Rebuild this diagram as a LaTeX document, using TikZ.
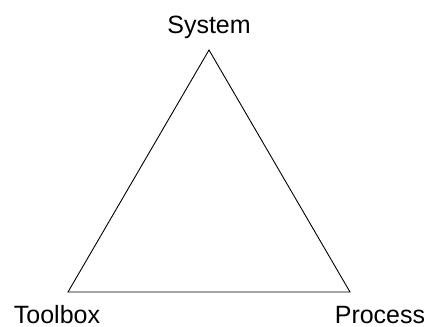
\documentclass[tikz,border=0pt]{standalone}
\usepackage{fontspec}
\setmainfont{Liberation Sans}
\usepackage{tikz}
\tikzstyle{edge} = [draw,line width=0.9pt]
\tikzstyle{lbl} = [inner sep=0,anchor=base,font=\fontsize{25}{30}\selectfont]

\begin{document}
\begin{tikzpicture}[x=1pt,y=-1pt]
    \useasboundingbox (0,0) rectangle (429,327);

    \coordinate (top) at (209,50);
    \coordinate (left) at (68,292);
    \coordinate (right) at (350,292);

    \node[lbl] (System) at (209,33) {System};
    \node[lbl] (Toolbox) at (57,323) {Toolbox};
    \node[lbl] (Process) at (380,323) {Process};

    \draw[edge] (top) -- (right) -- (left) -- cycle;

    \end{tikzpicture}
\end{document}
